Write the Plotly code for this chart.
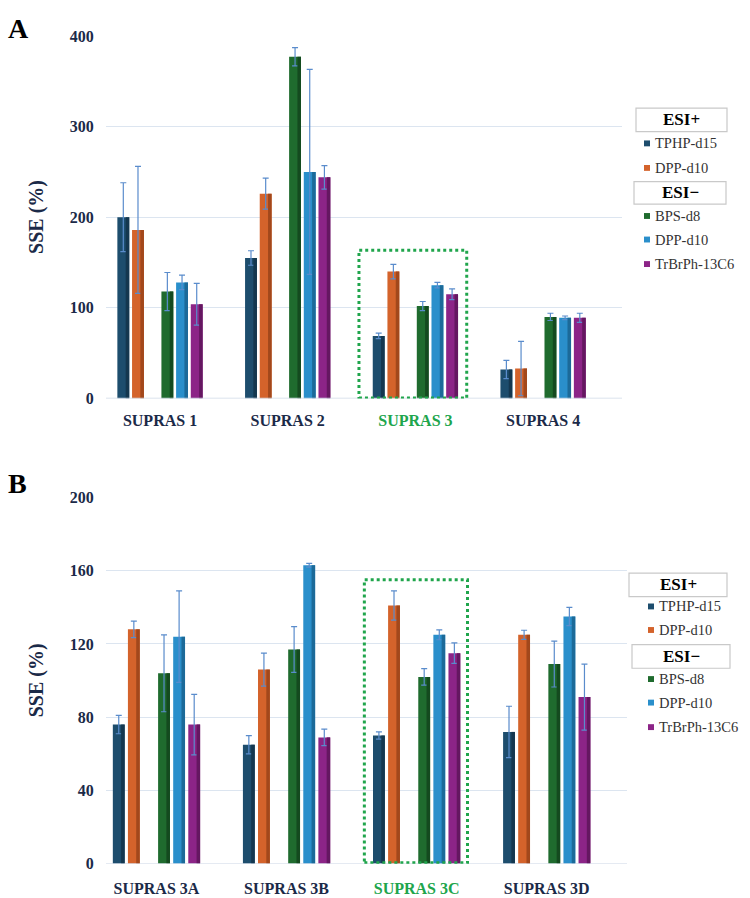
import plotly.graph_objects as go

# ---------------- data ----------------
series_names = ["TPHP-d15", "DPP-d10", "BPS-d8", "DPP-d10", "TrBrPh-13C6"]
series_groups = ["ESI+", "ESI+", "ESI−", "ESI−", "ESI−"]
series_colors = ["#1d4d6d", "#d4632b", "#1f6b2e", "#2a8fcb", "#8c2487"]
series_dark = ["#14374f", "#a2481c", "#144a1f", "#1c6a99", "#651761"]

cats_a = ["SUPRAS 1", "SUPRAS 2", "SUPRAS 3", "SUPRAS 4"]
vals_a = [
    [200, 155, 69, 32],      # TPHP-d15
    [186, 226, 140, 33],     # DPP-d10 (ESI+)
    [118, 377, 102, 90],     # BPS-d8
    [128, 250, 125, 89],     # DPP-d10 (ESI-)
    [104, 244, 115, 89],     # TrBrPh-13C6
]
errs_a = [
    [38, 8, 3, 10],
    [70, 17, 8, 30],
    [21, 10, 5, 4],
    [8, 113, 3, 2],
    [23, 13, 6, 5],
]
ticks_a = [0, 100, 200, 300, 400]

cats_b = ["SUPRAS 3A", "SUPRAS 3B", "SUPRAS 3C", "SUPRAS 3D"]
vals_b = [
    [76, 65, 70, 72],
    [128, 106, 141, 125],
    [104, 117, 102, 109],
    [124, 163, 125, 135],
    [76, 69, 115, 91],
]
errs_b = [
    [5, 5, 2, 14],
    [4.5, 9, 8, 2.5],
    [21, 12.5, 4.5, 12.5],
    [25, 1, 2.7, 5],
    [16.5, 4.5, 5.6, 18],
]
ticks_b = [0, 40, 80, 120, 160, 200]

highlight_idx = 2  # SUPRAS 3 / SUPRAS 3C
box_a = dict(x0=1.558, x1=2.402, y0=0.5, y1=163.5)
box_b = dict(x0=1.598, x1=2.391, y0=0.5, y1=155)

# ---------------- layout helpers ----------------
W, H = 750, 898
def px(x):
    return x / W
def py(y):
    return 1 - y / H

slots = [0, 1, 3, 4, 5]  # slot 2 left empty between ESI+ and ESI-
tick_color = "#1b2a48"
grid_color = "#dce5f0"
serif = "Liberation Serif"
hl_green = "#20a54c"

fig = go.Figure()

def add_panel(vals, errs, xa, ya, step, bw):
    for i in range(5):
        off = (slots[i] - 2.5) * step - bw / 2
        xs = list(range(len(vals[i])))
        fig.add_trace(go.Bar(
            x=xs, y=vals[i], width=bw, offset=off,
            marker=dict(color=series_colors[i], line=dict(width=0)),
            error_y=dict(type="data", array=errs[i], color="#5a8ccc",
                         thickness=1.2, width=3),
            xaxis=xa, yaxis=ya, showlegend=False, hoverinfo="y"))
        # darker right side for a bevelled look
        fig.add_trace(go.Bar(
            x=xs, y=vals[i], width=bw * 0.3, offset=off + bw * 0.7,
            marker=dict(color=series_dark[i], line=dict(width=0)),
            xaxis=xa, yaxis=ya, showlegend=False, hoverinfo="skip"))

add_panel(vals_a, errs_a, "x", "y", 0.115, 0.093)
add_panel(vals_b, errs_b, "x2", "y2", 0.116, 0.091)

def ticktexts(cats):
    out = []
    for k, c in enumerate(cats):
        if k == highlight_idx:
            out.append("<span style='color:%s'>%s</span>" % (hl_green, c))
        else:
            out.append(c)
    return out

def xcommon(tl):
    return dict(showgrid=False, zeroline=False, showline=False,
                ticks="outside", ticklen=tl, tickcolor="rgba(0,0,0,0)",
                tickfont=dict(family=serif, size=16, color=tick_color))
ycommon = dict(showgrid=True, gridcolor=grid_color, gridwidth=1,
               zeroline=False, showline=False,
               ticks="outside", ticklen=8, tickcolor="rgba(0,0,0,0)",
               tickfont=dict(family=serif, size=16, color=tick_color),
               title=dict(text="<b>SSE (%)</b>", standoff=20,
                          font=dict(family=serif, size=20, color=tick_color)))

fig.update_layout(
    width=W, height=H, margin=dict(l=0, r=0, t=0, b=0),
    paper_bgcolor="white", plot_bgcolor="white",
    barmode="overlay",
    xaxis=dict(domain=[px(106), px(622)], range=[-0.423, 3.618],
               tickvals=list(range(4)),
               ticktext=["<b>%s</b>" % t for t in ticktexts(cats_a)],
               anchor="y", **xcommon(7)),
    yaxis=dict(domain=[py(398), py(28)], range=[0, 400.5],
               tickvals=ticks_a, ticktext=["<b>%d</b>" % t for t in ticks_a],
               anchor="x", **ycommon),
    xaxis2=dict(domain=[px(106), px(627)], range=[-0.388, 3.617],
                tickvals=list(range(4)),
                ticktext=["<b>%s</b>" % t for t in ticktexts(cats_b)],
                anchor="y2", **xcommon(10)),
    yaxis2=dict(domain=[py(872.3), py(498.3)], range=[0, 200.3],
                tickvals=ticks_b, ticktext=["<b>%d</b>" % t for t in ticks_b],
                anchor="x2", **ycommon),
)

shapes = []
# zero baselines
for xr, yr in (("x", "y"), ("x2", "y2")):
    shapes.append(dict(type="line", xref=xr + " domain", yref=yr,
                       x0=0, x1=1, y0=0, y1=0,
                       line=dict(color="#d0dae8", width=1.2)))
# highlight boxes
for b, xr, yr in ((box_a, "x", "y"), (box_b, "x2", "y2")):
    shapes.append(dict(type="rect", xref=xr, yref=yr, layer="above",
                       x0=b["x0"], x1=b["x1"], y0=b["y0"], y1=b["y1"],
                       line=dict(color=hl_green, width=3, dash="dot")))

annotations = []
# panel letters
annotations.append(dict(text="<b>A</b>", x=px(6), y=py(3), xref="paper", yref="paper",
                        xanchor="left", yanchor="top", showarrow=False,
                        font=dict(family=serif, size=28, color="black")))
annotations.append(dict(text="<b>B</b>", x=px(6), y=py(467), xref="paper", yref="paper",
                        xanchor="left", yanchor="top", showarrow=False,
                        font=dict(family=serif, size=28, color="black")))

def add_legend(hdr1, hdr2, item_ys, marker_x, text_x):
    # hdr: (x0, x1, y0, y1, label)
    for (x0, x1, y0, y1, lab) in (hdr1, hdr2):
        shapes.append(dict(type="rect", xref="paper", yref="paper",
                           x0=px(x0), x1=px(x1), y0=py(y1), y1=py(y0),
                           line=dict(color="#c9c9c9", width=1.2), fillcolor="white"))
        annotations.append(dict(text="<b>%s</b>" % lab, x=px((x0 + x1) / 2),
                                y=py((y0 + y1) / 2), xref="paper", yref="paper",
                                xanchor="center", yanchor="middle", showarrow=False,
                                font=dict(family=serif, size=17, color="black")))
    for i in range(5):
        yc = item_ys[i]
        shapes.append(dict(type="rect", xref="paper", yref="paper",
                           x0=px(marker_x - 3), x1=px(marker_x + 3),
                           y0=py(yc + 3), y1=py(yc - 3),
                           line=dict(width=0), fillcolor=series_colors[i]))
        annotations.append(dict(text=series_names[i], x=px(text_x), y=py(yc),
                                xref="paper", yref="paper", xanchor="left",
                                yanchor="middle", showarrow=False,
                                font=dict(family=serif, size=14.5, color="#333333")))

add_legend((636, 727, 102, 126, series_groups[0]), (634, 726, 177, 200, series_groups[2]),
           [138, 163, 212, 236, 261], 647, 653)
add_legend((629, 727, 576, 600, series_groups[0]), (632, 730, 649, 673, series_groups[2]),
           [610, 634, 684, 708, 733], 651, 657)

fig.update_layout(shapes=shapes, annotations=annotations)
fig.write_html("out.html")
